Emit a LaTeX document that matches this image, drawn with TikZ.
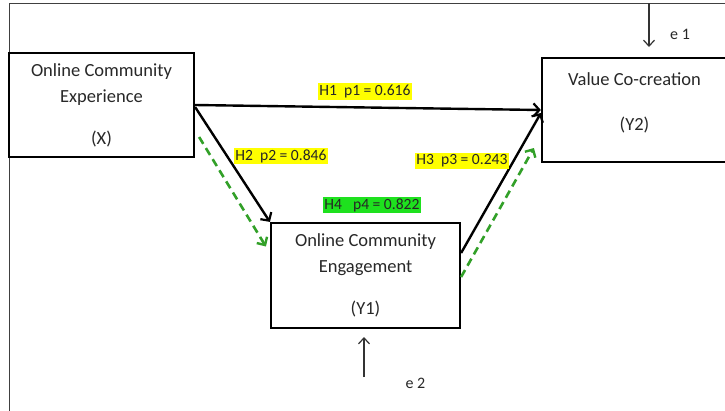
\documentclass[tikz,border=0pt]{standalone}
\usepackage{fontspec}
\setmainfont{Carlito}
\usetikzlibrary{arrows.meta}
\definecolor{hyel}{RGB}{255,255,0}
\definecolor{hgrn}{RGB}{30,225,30}
\definecolor{dgrn}{RGB}{50,160,40}
\definecolor{txt}{RGB}{40,40,40}
\tikzset{
  box/.style={draw=black, line width=2.2pt, minimum width=185pt, minimum height=104pt,
    align=center, inner sep=0pt, text=txt, font=\fontsize{18.5}{26}\selectfont},
  boxtext/.style={align=center, inner sep=0pt, text=txt, font=\fontsize{18.5}{26}\selectfont},
  lab/.style={font=\fontsize{15.6}{17}\selectfont, inner xsep=1pt, inner ysep=1.5pt, fill=hyel, text=black!85},
  elab/.style={font=\fontsize{16}{18}\selectfont, inner sep=0pt, text=txt},
  arr/.style={draw=black, line width=2.4pt, -{Straight Barb[length=6pt,width=13pt,line width=2.2pt]}},
  garr/.style={draw=dgrn, line width=2.6pt, dash pattern=on 8pt off 5pt, -{Straight Barb[length=6pt,width=12pt,line width=2.4pt]}},
  earr/.style={draw=black!80, line width=1.2pt, -{Straight Barb[length=6pt,width=11pt,line width=1.2pt]}},
  frame/.style={draw=black!75, line width=1pt}
}
\begin{document}
\begin{tikzpicture}[x=1pt,y=-1pt]
\useasboundingbox (0,0) rectangle (725,410);
\clip (0,0) rectangle (725,410);
\fill[white] (0,0) rectangle (725,410);
% outer frame
\coordinate (ftl) at (9,3);
\coordinate (ftr) at (726,3);
\coordinate (fbl) at (9,411);
\draw[frame] (ftr) -- (ftl) -- (fbl);
% boxes
\node[box] (X) at (101.5,105) {Online Community\\Experience\\[16pt](X)};
\node[box, minimum width=189pt, minimum height=105pt] (Y1) at (365.5,275.5) {Online Community\\Engagement\\[16pt](Y1)};
\node[box] (Y2) at (634.5,110) {};
\node[boxtext] (Y2t) at (634.5,102.5) {Value Co-creation\\[19pt](Y2)};
% paths
\draw[arr] (X.east) -- (Y2.west);
\draw[arr] ([yshift=-2pt]X.east) -- (Y1.north west);
\draw[garr] ([xshift=4pt,yshift=-32pt]X.east) -- ([xshift=-4pt,yshift=29pt]Y1.west);
\draw[arr] ([yshift=22.5pt]Y1.east) -- ([yshift=-3pt]Y2.west);
\draw[garr] ([yshift=-1.5pt]Y1.east) -- ([xshift=-7pt,yshift=-38pt]Y2.west);
% labels
\node[lab] (h1) at (365,91.5) {H1\hspace{7pt}p1 = 0.616};
\node[lab] (h2) at (281,156) {H2\hspace{7pt}p2 = 0.846};
\node[lab] (h3) at (462,161) {H3\hspace{7pt}p3 = 0.243};
\node[lab, fill=hgrn] (h4) at (372,205) {H4\hspace{11pt}p4 = 0.822};
% error terms
\coordinate (e1s) at (649,3);
\coordinate (e1e) at (649,47);
\draw[earr] (e1s) -- (e1e);
\node[elab] (e1) at (680,34.5) {e 1};
\coordinate (e2s) at (364,377);
\coordinate (e2e) at (364,337);
\draw[earr] (e2s) -- (e2e);
\node[elab] (e2) at (415.5,383) {e 2};
\end{tikzpicture}
\end{document}
